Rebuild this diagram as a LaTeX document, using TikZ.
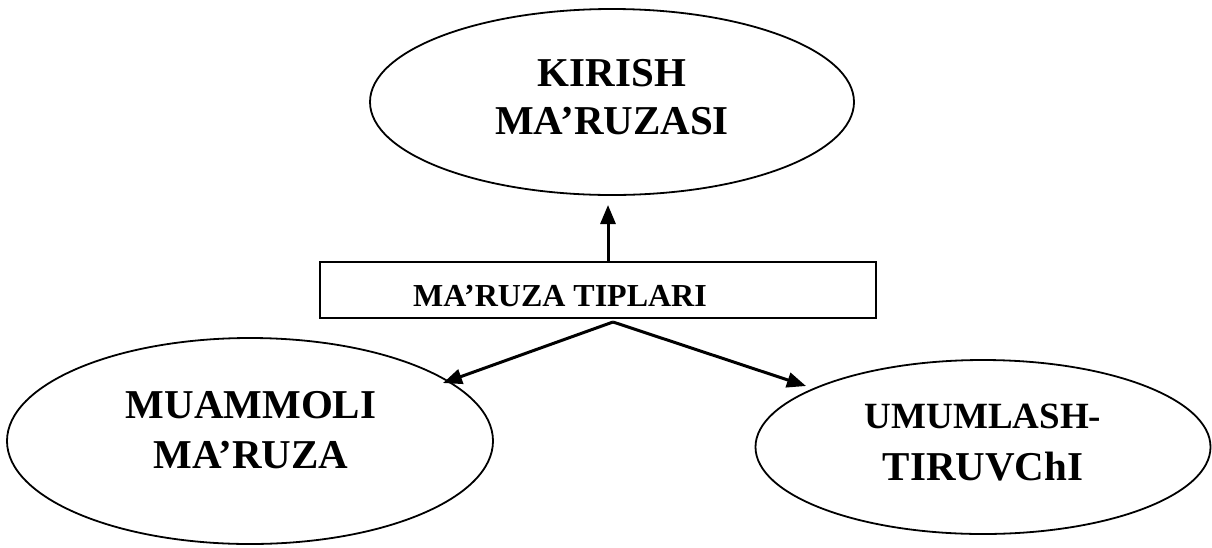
\documentclass[tikz,border=0pt]{standalone}
\usepackage{fontspec}
\setmainfont{Liberation Serif}
\usetikzlibrary{shapes.geometric,arrows.meta}
\begin{document}
\begin{tikzpicture}[x=1pt,y=-1pt,
  ell/.style={draw,ellipse,line width=1.8pt,inner sep=0pt},
  box/.style={draw,rectangle,line width=2.4pt,inner sep=0pt},
  txt/.style={align=center,font=\bfseries\fontsize{41}{48}\selectfont,inner sep=0pt},
  arr/.style={line width=3pt,-{Triangle[length=19pt,width=15pt]}}]
\useasboundingbox (0,0) rectangle (1212,547);
% nodes
\node[ell,minimum width=484pt,minimum height=186pt] (kirish) at (612,102) {};
\node[txt] (kirisht) at (612,97) {KIRISH\\MA’RUZASI};
\node[box,minimum width=556pt,minimum height=56pt] (tip) at (598,290) {};
\node[txt,font=\bfseries\fontsize{32}{38}\selectfont] (tipt) at (560,296) {MA’RUZA TIPLARI};
\node[ell,minimum width=486pt,minimum height=206pt] (muam) at (250,441) {};
\node[txt,font=\bfseries\fontsize{41}{50}\selectfont] (muamt) at (251,430) {MUAMMOLI\\MA’RUZA};
\node[ell,minimum width=455pt,minimum height=174pt] (umum) at (983,447) {};
\node[txt] (umumt) at (983,443) {{\fontsize{37}{44}\selectfont UMUMLASH-}\\[4pt]TIRUVChI};
% connector ends
\coordinate (upt) at (608,205);
\coordinate (fork) at (613,322);
\coordinate (lt) at (443,383);
\coordinate (rt) at (806,386);
% connectors
\draw[arr] (tip.north -| upt) -- (upt);
\draw[arr] (fork) -- (lt);
\draw[arr] (fork) -- (rt);
\end{tikzpicture}
\end{document}
